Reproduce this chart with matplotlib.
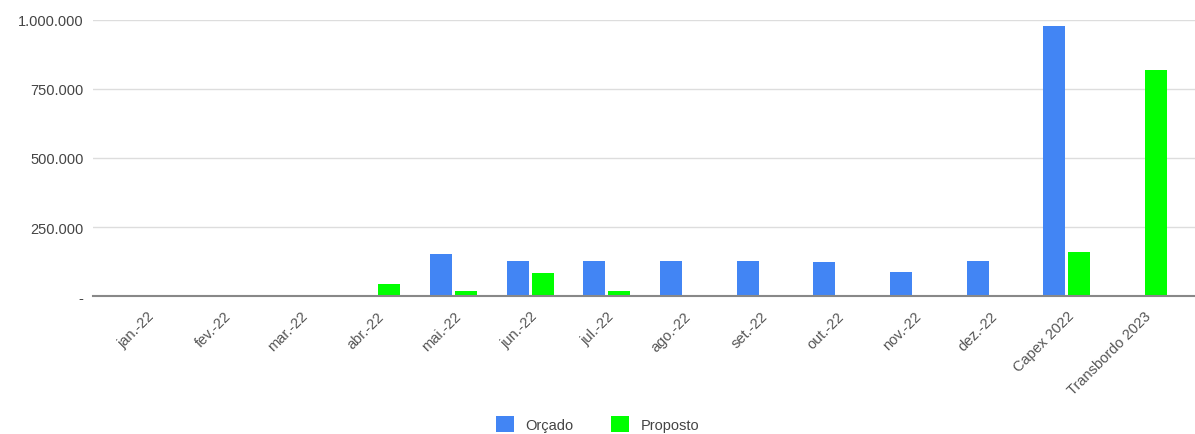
import matplotlib.pyplot as plt
import matplotlib.ticker as mticker
import numpy as np

plt.rcParams['font.family'] = ['Liberation Sans', 'DejaVu Sans']

categories = ['jan.-22', 'fev.-22', 'mar.-22', 'abr.-22', 'mai.-22', 'jun.-22', 'jul.-22',
              'ago.-22', 'set.-22', 'out.-22', 'nov.-22', 'dez.-22', 'Capex 2022', 'Transbordo 2023']
orcado = [0, 0, 0, 0, 152000, 126000, 126000, 126000, 126000, 122000, 86000, 126000, 979000, 0]
proposto = [0, 0, 0, 43000, 19000, 82000, 19000, 0, 0, 0, 0, 0, 160000, 819000]

blue = '#4285F4'
green = '#00FF00'

fig = plt.figure(figsize=(11.95, 4.35), dpi=100)
ax = fig.add_axes([0.078, 0.317, 0.922, 0.635])

x = np.arange(len(categories))
w = 0.287
ax.bar(x - 0.163, orcado, width=w, color=blue, label='Orçado', zorder=3)
ax.bar(x + 0.163, proposto, width=w, color=green, label='Proposto', zorder=3)

ax.set_xlim(-0.7, 13.67)
ax.set_ylim(0, 1000000)
ax.set_yticks([0, 250000, 500000, 750000, 1000000])
ax.yaxis.set_major_formatter(mticker.FuncFormatter(
    lambda v, p: '-' if v == 0 else f'{int(v):,}'.replace(',', '.')))
ax.grid(axis='y', color='#dddddd', linewidth=1, zorder=0)
ax.set_xticks(x)
ax.set_xticklabels(categories, rotation=45, ha='right', rotation_mode='anchor')
ax.tick_params(axis='both', length=0, labelsize=10.5, colors='#444444', pad=7)
ax.tick_params(axis='x', pad=9, colors='#555555')

for s in ['top', 'right', 'left']:
    ax.spines[s].set_visible(False)
ax.spines['bottom'].set_color('#888888')
ax.spines['bottom'].set_linewidth(1.5)
ax.spines['bottom'].set_zorder(4)

fig.legend(loc='lower center', bbox_to_anchor=(0.5, -0.025), ncol=2, frameon=False,
           handlelength=1.2, handleheight=1.3, columnspacing=2.6, fontsize=10.5,
           labelcolor='#444444')

fig.savefig('out.png', dpi=100)
